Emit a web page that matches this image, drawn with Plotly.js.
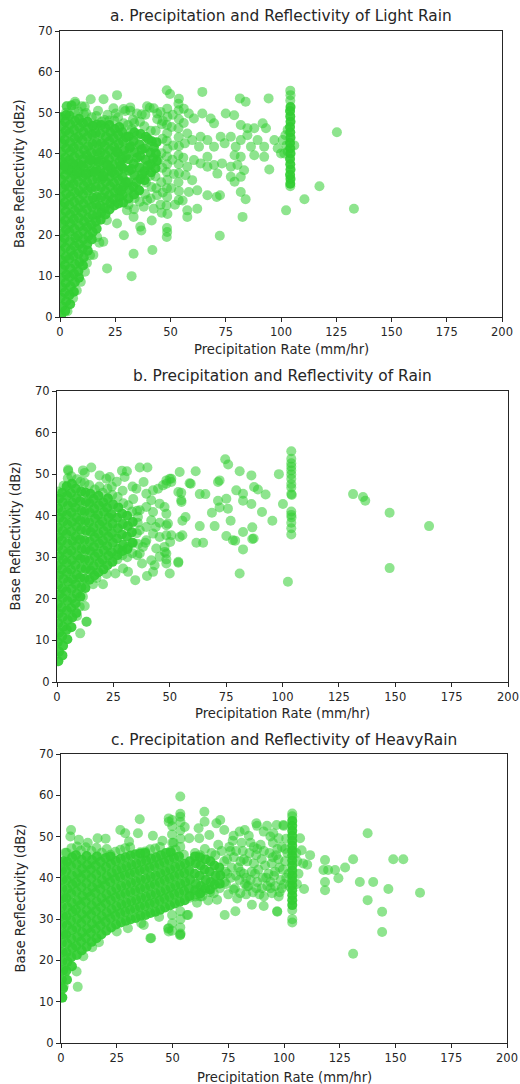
<!DOCTYPE html>
<html>
<head>
<meta charset="utf-8">
<script src="https://cdn.plot.ly/plotly-3.0.1.min.js"></script>
<style>html,body{margin:0;padding:0;background:#fff;}#chart{width:520px;height:1084px;}</style>
</head>
<body>
<div id="chart"></div>
<script>
// ---- Data: [precipitation rate (mm/hr), base reflectivity (dBz)] ----
// "Dense" lists hold points from the saturated (heavily overlapping) parts of each cloud,
// "Sparse" lists hold the scattered points around them.
const panelTitles = ["a. Precipitation and Reflectivity of Light Rain", "b. Precipitation and Reflectivity of Rain", "c. Precipitation and Reflectivity of HeavyRain"];
const xLabel = "Precipitation Rate (mm/hr)";
const yLabel = "Base Reflectivity (dBz)";
const xTicks = [0, 25, 50, 75, 100, 125, 150, 175, 200];
const yTicks = [0, 10, 20, 30, 40, 50, 60, 70];

const lightRainDense = [
[0.6,0.4],[1.1,2.6],[0.4,4.8],[0.9,7.2],[0.5,9.5],[1.2,11.6],[0.7,13.9],[0.3,16.1],[1.0,18.2],[0.6,20.5],[1.3,22.7],[0.5,24.8],[0.8,27.1],[0.4,29.3],[1.1,31.5],[0.7,33.6],[0.3,35.9],[1.0,38.0],[0.6,40.3],[1.2,42.4],[0.5,44.6],[0.9,46.8],[0.4,48.9],
[2.4,1.5],[2.8,3.8],[2.2,6.0],[2.6,8.3],[2.9,10.4],[2.3,12.7],[2.7,14.8],[2.5,17.0],[2.1,19.3],[2.8,21.4],[2.4,23.6],[2.6,25.9],[2.2,28.0],[2.9,30.2],[2.5,32.4],[2.3,34.7],[2.7,36.8],[2.4,39.0],[2.8,41.3],[2.2,43.4],[2.6,45.6],[2.4,47.8],[2.7,49.4],
[4.6,3.1],[4.3,5.4],[4.8,7.5],[4.4,9.8],[4.7,11.9],[4.2,14.2],[4.9,16.3],[4.5,18.5],[4.3,20.8],[4.8,22.9],[4.6,25.1],[4.2,27.4],[4.7,29.5],[4.4,31.8],[4.9,33.9],[4.5,36.1],[4.3,38.4],[4.8,40.5],[4.6,42.7],[4.2,45.0],[4.7,47.1],[4.4,49.3],
[6.3,6.2],[6.7,8.5],[6.4,10.6],[6.8,12.9],[6.2,15.0],[6.6,17.3],[6.9,19.4],[6.5,21.6],[6.3,23.9],[6.7,26.0],[6.4,28.2],[6.8,30.5],[6.2,32.6],[6.6,34.8],[6.9,37.1],[6.5,39.2],[6.3,41.4],[6.7,43.7],[6.4,45.8],[6.8,48.0],
[8.6,9.6],[8.3,11.2],[8.8,13.4],[8.4,15.5],[8.7,17.8],[8.2,19.9],[8.9,22.2],[8.5,24.3],[8.3,26.6],[8.8,28.7],[8.6,30.9],[8.2,33.2],[8.7,35.3],[8.4,37.5],[8.9,39.8],[8.5,41.9],[8.3,44.1],[8.8,46.4],[8.6,48.5],
[10.4,12.6],[10.8,14.6],[10.3,16.7],[10.7,19.0],[10.5,21.1],[10.9,23.4],[10.2,25.5],[10.6,27.7],[10.4,30.0],[10.8,32.1],[10.3,34.3],[10.7,36.6],[10.5,38.7],[10.9,40.9],[10.2,43.2],[10.6,45.3],[10.4,47.5],
[12.6,16.2],[12.3,17.8],[12.8,19.8],[12.4,22.0],[12.7,24.3],[12.2,26.4],[12.9,28.6],[12.5,30.9],[12.3,33.0],[12.8,35.2],[12.6,37.5],[12.2,39.6],[12.7,41.8],[12.4,44.1],[12.9,46.2],[12.5,47.8],
[14.4,19.0],[14.8,20.8],[14.3,22.6],[14.7,24.9],[14.5,27.0],[14.9,29.2],[14.2,31.5],[14.6,33.6],[14.4,35.8],[14.8,38.1],[14.3,40.2],[14.7,42.4],[14.5,44.7],[14.9,46.8],
[16.6,21.6],[16.3,23.4],[16.8,25.1],[16.4,27.4],[16.7,29.5],[16.2,31.8],[16.9,33.9],[16.5,36.1],[16.3,38.4],[16.8,40.5],[16.6,42.7],[16.2,45.0],[16.7,47.1],
[18.4,23.8],[18.8,25.6],[18.3,27.2],[18.7,29.4],[18.5,31.7],[18.9,33.8],[18.2,36.0],[18.6,38.3],[18.4,40.4],[18.8,42.6],[18.3,44.9],[18.7,47.0],
[20.6,25.1],[20.3,26.7],[20.8,28.7],[20.4,30.9],[20.7,33.1],[20.2,35.3],[20.9,37.5],[20.5,39.7],[20.3,41.9],[20.8,44.1],[20.6,46.3],
[22.4,26.3],[22.8,27.9],[22.3,29.8],[22.7,32.0],[22.5,34.2],[22.9,36.4],[22.2,38.6],[22.6,40.8],[22.4,43.0],[22.8,45.2],[22.3,47.0],
[24.6,27.3],[24.3,28.9],[24.8,30.6],[24.4,32.8],[24.7,35.0],[24.2,37.2],[24.9,39.4],[24.5,41.6],[24.3,43.8],[24.8,46.0],
[26.4,27.8],[26.8,29.4],[26.3,31.4],[26.7,33.6],[26.5,35.8],[26.9,38.0],[26.2,40.2],[26.6,42.4],[26.4,44.6],[26.8,46.5],
[28.6,28.0],[28.3,29.8],[28.8,32.0],[28.4,34.2],[28.7,36.4],[28.2,38.6],[28.9,40.8],[28.5,43.0],[28.3,45.2],
[31.0,29.0],[31.4,31.2],[30.8,33.0],[31.2,35.8],[30.9,38.6],[31.5,41.4],[31.1,44.2],
[33.5,30.0],[33.2,31.9],[33.7,34.7],[33.4,37.5],[33.9,40.3],[33.3,43.1],[33.6,45.2],
[35.8,31.0],[36.4,33.8],[35.9,36.6],[36.3,39.4],[36.0,42.2],[36.5,44.8],
[38.3,33.5],[38.3,35.7],[38.7,38.5],[38.4,41.3],[38.8,44.1],
[41.2,35.4],[41.2,37.4],[40.9,40.2],[41.5,43.0],
[43.2,36.4],[43.8,38.2],[43.4,40.0],[43.7,42.8],
[32.3,36.2],[32.0,41.8],[34.6,33.0],[34.9,39.0],[37.2,35.0],[37.0,41.0],[39.7,37.0],[39.9,43.5],[42.2,38.8],[42.5,41.5],[29.8,33.0],[29.9,39.5],[30.0,44.0],[27.6,37.0],[27.7,31.0],[25.6,40.5],[23.6,35.5],[21.6,37.0],[19.6,34.5],[17.5,38.0],[15.5,35.5],[13.6,38.5],[11.6,35.0],[9.6,37.0],[7.6,35.5],[5.6,37.5],[3.6,36.0],[1.7,37.0],
[104.2,32.6],[104.3,33.8],[104.1,34.8],[104.3,36.1],[104.2,37.4],[104.1,38.7],[104.3,40.0],[104.2,41.3],[104.1,42.6],[104.3,43.9],[104.2,45.2],[104.1,46.5],[104.3,47.8],[104.2,49.1],[104.1,50.4],[104.3,51.4]
];

const lightRainSparse = [
[3.1,51.6],[5.2,51.7],[7.0,52.2],[8.4,50.3],[11.2,51.5],[10.8,49.6],[6.6,50.1],[2.7,50.0],[14.4,48.9],[16.4,49.2],[20.2,48.2],[18.9,47.8],[22.3,48.1],[24.6,48.1],[25.2,49.8],[26.3,48.9],[28.8,47.4],[29.5,50.4],[31.8,50.5],[30.7,47.0],[33.0,48.3],[33.6,47.5],[31.0,27.5],[33.5,26.4],[33.8,29.1],
[36.1,28.2],[35.8,31.0],[36.2,47.8],[38.5,30.1],[38.9,32.9],[38.2,46.7],[38.6,49.5],[41.0,29.0],[41.4,31.8],[40.8,34.6],[41.1,45.6],[40.6,51.2],[43.6,31.5],[43.2,34.4],[43.3,45.6],[44.0,48.4],
[45.8,33.0],[46.3,36.5],[45.9,40.1],[46.4,43.6],[46.1,47.2],[45.5,27.5],[46.5,30.5],[44.6,38.5],[32.5,46.0],[35.0,44.5],
[32.4,10.0],[21.3,11.9],[11.3,11.1],[9.4,8.6],[15.1,15.2],[13.6,15.1],[19.6,18.4],[17.8,18.2],[33.3,15.5],[41.8,16.4],[28.9,20.0],[36.3,22.1],[36.8,21.2],[41.5,23.6],[25.8,22.9],[21.2,23.7],[30.3,26.1],[33.3,24.5],[37.9,27.0],[42.4,26.5],[39.4,28.6],[43.9,29.8],[7.6,6.5],[5.9,4.6],[3.4,1.4],[12.2,13.2],[16.8,19.6],
[3.0,51.6],[5.3,51.8],[6.8,52.7],[9.8,51.6],[13.9,53.3],[19.7,53.3],[25.8,54.3],[24.2,51.1],[28.8,50.9],[31.8,51.3],[39.4,51.6],[42.4,51.1],[45.5,50.2],[34.8,49.8],[21.5,49.5],[17.2,50.5],[37.0,49.6],[44.0,49.8],[11.8,49.9],
[48.3,19.6],[48.5,20.8],[48.4,21.8],[48.6,25.2],[48.2,27.3],[48.5,29.4],[48.4,31.5],[48.6,33.6],[48.3,35.5],[48.5,37.4],[48.4,39.3],[48.6,41.2],[48.3,43.1],[48.5,45.0],[48.4,47.0],[48.6,49.0],[48.5,51.0],[48.3,55.5],[49.8,54.6],
[53.7,28.6],[53.8,30.8],[53.6,33.0],[53.8,35.2],[53.7,37.4],[53.6,39.6],[53.8,41.8],[53.7,44.0],[53.6,46.2],[53.8,48.4],[53.7,50.6],[53.6,52.2],[53.8,53.4],
[104.2,32.0],[104.2,53.0],[104.3,54.3],[104.2,55.4],[102.0,44.5],[102.5,42.0],[103.0,40.5],[106.0,42.0],[101.5,40.0],[103.0,45.8],
[50.5,46.5],[51.2,42.0],[50.8,38.5],[51.5,35.0],[50.3,31.5],[56.0,47.5],[56.5,42.5],[55.8,39.0],[46.5,48.0],[51.0,49.5],[56.0,51.0],[52.0,27.5],[46.0,25.5],[55.5,28.5],
[58.3,49.8],[60.6,48.6],[64.4,49.8],[68.2,48.6],[69.7,47.4],[75.0,49.8],[78.8,49.4],[81.8,47.0],[87.9,46.2],[91.7,47.4],[93.2,46.2],[84.8,46.2],
[57.6,44.9],[59.8,43.3],[63.6,44.1],[66.7,43.3],[62.9,41.7],[69.7,41.7],[72.7,44.1],[74.5,42.5],[77.3,44.1],[79.5,41.7],[81.8,43.3],[84.8,44.5],[86.4,41.7],[89.4,43.3],[92.4,41.7],[97.0,43.3],[98.5,41.3],[100.8,43.3],[100.0,40.0],
[79.0,39.6],[81.8,39.2],[87.9,39.6],[92.4,39.2],[66.7,39.2],[60.6,38.4],[63.6,37.6],[69.7,37.2],[73.3,37.6],[77.3,36.8],[80.3,37.2],[83.3,35.9],[94.7,36.1],[66.7,36.8],[71.2,35.1],[77.3,34.3],[79.0,33.1],[81.8,34.3],[57.6,36.8],[56.8,34.7],[59.8,33.5],[62.1,31.0],[58.3,30.6],[66.7,29.8],[72.4,29.8],[81.8,30.6],[84.0,28.8],[82.6,24.5],[62.1,26.5],[57.6,24.5],[57.6,26.1],[72.3,19.9],[70.9,29.4],
[64.4,55.1],[81.4,53.5],[84.0,52.7],[94.4,53.5],
[133.0,26.5],[125.3,45.2],[117.4,32.0],[110.6,28.8],[102.3,26.1]
];

const rainDense = [
[0.6,5.0],[0.9,7.3],[0.4,9.6],[1.0,11.9],[0.6,14.2],[0.8,16.5],[0.4,18.8],[1.1,21.1],[0.5,23.4],[0.9,25.7],[0.4,28.0],[1.0,30.3],[0.6,32.6],[0.8,34.9],[0.4,37.2],[1.1,39.5],[0.5,41.8],[0.9,44.1],
[2.4,6.4],[2.7,8.7],[2.3,11.0],[2.8,13.3],[2.5,15.6],[2.2,17.9],[2.6,20.2],[2.4,22.5],[2.9,24.8],[2.3,27.1],[2.7,29.4],[2.5,31.7],[2.2,34.0],[2.6,36.3],[2.8,38.6],[2.4,40.9],[2.6,43.2],[2.3,45.5],
[4.6,10.3],[4.3,12.6],[4.8,14.9],[4.4,17.2],[4.7,19.5],[4.2,21.8],[4.9,24.1],[4.5,26.4],[4.3,28.7],[4.8,31.0],[4.6,33.3],[4.2,35.6],[4.7,37.9],[4.4,40.2],[4.9,42.5],[4.5,44.8],[4.3,47.1],
[6.4,13.2],[6.8,15.5],[6.3,17.8],[6.7,20.1],[6.5,22.4],[6.9,24.7],[6.2,27.0],[6.6,29.3],[6.4,31.6],[6.8,33.9],[6.3,36.2],[6.7,38.5],[6.5,40.8],[6.9,43.1],[6.2,45.4],[6.6,47.7],
[8.6,16.6],[8.3,18.9],[8.8,21.2],[8.4,23.5],[8.7,25.8],[8.2,28.1],[8.9,30.4],[8.5,32.7],[8.3,35.0],[8.8,37.3],[8.6,39.6],[8.2,41.9],[8.7,44.2],[8.4,46.5],
[10.4,20.5],[10.8,22.8],[10.3,25.1],[10.7,27.4],[10.5,29.7],[10.9,32.0],[10.2,34.3],[10.6,36.6],[10.4,38.9],[10.8,41.2],[10.3,43.5],[10.7,45.8],
[12.6,22.6],[12.3,24.9],[12.8,27.2],[12.4,29.5],[12.7,31.8],[12.2,34.1],[12.9,36.4],[12.5,38.7],[12.3,41.0],[12.8,43.3],[12.6,45.6],
[14.4,24.6],[14.8,26.9],[14.3,29.2],[14.7,31.5],[14.5,33.8],[14.9,36.1],[14.2,38.4],[14.6,40.7],[14.4,43.0],[14.8,45.3],
[16.6,25.6],[16.3,27.9],[16.8,30.2],[16.4,32.5],[16.7,34.8],[16.2,37.1],[16.9,39.4],[16.5,41.7],[16.3,44.0],
[18.4,26.4],[18.8,28.7],[18.3,31.0],[18.7,33.3],[18.5,35.6],[18.9,37.9],[18.2,40.2],[18.6,42.5],[18.4,44.8],
[20.6,27.1],[20.3,29.4],[20.8,31.7],[20.4,34.0],[20.7,36.3],[20.2,38.6],[20.9,40.9],[20.5,43.2],
[22.4,28.1],[22.8,30.4],[22.3,32.7],[22.7,35.0],[22.5,37.3],[22.9,39.6],[22.2,41.9],[22.6,44.2],
[24.6,28.9],[24.3,31.2],[24.8,33.5],[24.4,35.8],[24.7,38.1],[24.2,40.4],[24.9,42.7],
[26.8,30.5],[27.1,32.0],[26.6,34.5],[27.0,37.0],[26.7,39.5],[27.2,42.0],
[29.0,31.5],[29.3,33.0],[28.8,35.5],[29.2,38.0],[28.9,40.5],
[31.2,32.0],[31.0,35.0],[31.4,37.5],[31.1,40.0],
[33.4,33.5],[33.2,36.0],[33.6,38.5]
];

const rainSparse = [
[0.6,45.8],[2.9,47.2],[4.8,49.0],[5.0,50.8],[6.4,49.5],[8.9,48.8],[10.5,48.2],[12.2,47.9],[14.3,47.4],[16.8,46.3],[18.8,47.0],[20.3,45.5],[22.4,46.5],[24.5,45.0],[24.3,47.0],
[26.8,29.5],[26.9,44.5],[29.0,30.5],[29.4,43.0],[29.1,46.0],[31.2,30.0],[31.5,32.5],[31.6,42.5],[33.4,31.0],[33.7,33.5],[33.3,41.0],[33.8,44.0],
[35.6,30.5],[35.9,33.2],[35.4,35.8],[35.8,38.3],[35.5,41.2],
[36.7,51.6],[40.1,51.6],[38.4,48.1],[35.2,46.5],[39.6,45.3],[42.6,46.1],[44.8,46.5],[47.0,47.3],[48.5,48.5],[50.0,48.9],[50.7,48.1],[41.8,43.7],[45.5,42.9],[47.7,42.1],[39.6,42.1],[36.7,41.3],[42.6,40.9],[48.5,40.5],[41.8,38.9],[45.5,38.3],[48.5,37.7],[49.2,38.1],[39.6,37.3],[36.7,36.5],[42.6,35.7],[45.5,34.9],[48.5,35.3],[39.6,34.1],[38.1,32.5],[44.0,32.1],[47.7,32.5],[48.5,30.9],[45.5,30.1],[41.8,29.3],[48.5,29.5],[36.7,30.9],[39.2,33.5],[43.8,37.3],[35.9,39.7],
[34.7,24.5],[39.9,25.5],[42.6,26.5],[37.7,28.5],[43.3,28.1],[25.9,26.1],[29.3,27.3],[31.5,26.5],[20.4,23.5],[13.0,14.5],[10.3,11.7],[12.3,18.3],[10.1,18.1],[8.9,15.9],[13.2,14.5],[17.5,25.0],[16.0,23.5],[22.0,26.0],[11.5,20.5],
[4.9,51.1],[11.5,50.9],[15.2,51.6],[12.3,50.3],[18.9,49.7],[23.4,49.3],[28.8,50.8],[31.0,50.7],[30.0,49.3],[21.9,48.9],[26.5,48.2],[33.5,47.0],
[103.9,55.5],[103.9,53.7],[103.9,52.6],[103.9,51.8],[103.9,50.9],[103.9,49.9],[103.9,48.9],[103.9,47.6],[103.9,46.8],[103.9,45.2],[104.1,45.0],[103.9,41.0],[103.9,40.2],[104.0,39.6],[103.9,38.3],[103.9,37.0],[103.9,35.5],[102.4,24.1],
[165.0,37.5],[147.5,40.7],[147.5,27.4],[131.3,45.2],[135.7,44.5],[136.7,43.6],[98.4,50.0],[100.2,42.8],[95.5,38.8],[90.9,40.9],[92.5,45.1],[89.1,46.3],[87.4,46.9],[86.2,49.7],[81.0,50.7],[79.5,46.1],[82.5,45.3],[82.5,43.6],[86.2,42.8],[86.6,37.2],[87.2,34.5],[86.6,34.4],[82.5,36.1],[82.5,31.9],[81.0,26.1],[78.0,34.1],[79.0,34.0],[75.1,35.1],[77.0,38.8],[75.8,41.7],[75.1,44.1],[74.6,53.6],[75.9,52.3],[72.1,48.5],[71.4,48.1],[71.4,43.6],[72.1,42.0],[68.7,40.7],[69.9,37.5],[63.3,37.5],[61.8,33.5],[64.8,33.5],[63.3,45.2],[65.8,45.2],[61.5,50.7],[59.3,47.7],[55.1,45.5],[55.1,43.7],[55.6,38.8],[57.0,39.7],[55.6,35.3],[54.4,34.9],[53.8,28.7],[54.4,50.5],[50.0,26.1],[48.5,28.5],[50.7,48.9],[48.5,47.7],[50.7,35.3],[50.2,33.7],[53.8,28.9],[47.8,31.3],[53.8,45.7],[55.2,43.3],[58.8,47.8]
];

const heavyRainDense = [
[0.6,11.0],[0.9,13.2],[0.4,15.4],[1.0,17.6],[0.6,19.8],[0.8,22.0],[0.4,24.2],[1.1,26.4],[0.5,28.6],[0.9,30.8],[0.4,33.0],[1.0,35.2],[0.6,37.4],[0.8,39.6],[0.4,41.8],[1.0,44.0],
[2.7,15.3],[2.4,17.5],[2.9,19.7],[2.5,21.9],[2.8,24.1],[2.3,26.3],[2.7,28.5],[2.5,30.7],[2.9,32.9],[2.4,35.1],[2.8,37.3],[2.6,39.5],[2.3,41.7],[2.7,43.9],
[4.9,18.6],[4.6,20.8],[5.1,23.0],[4.7,25.2],[5.0,27.4],[4.5,29.6],[5.2,31.8],[4.8,34.0],[4.6,36.2],[5.1,38.4],[4.9,40.6],[4.5,42.8],[5.0,45.0],
[7.1,21.3],[6.8,23.5],[7.3,25.7],[6.9,27.9],[7.2,30.1],[6.7,32.3],[7.4,34.5],[7.0,36.7],[6.8,38.9],[7.3,41.1],[7.1,43.3],[6.7,45.5],
[9.3,22.4],[9.0,24.6],[9.5,26.8],[9.1,29.0],[9.4,31.2],[8.9,33.4],[9.6,35.6],[9.2,37.8],[9.0,40.0],[9.5,42.2],[9.3,44.4],
[11.5,23.3],[11.2,25.5],[11.7,27.7],[11.3,29.9],[11.6,32.1],[11.1,34.3],[11.8,36.5],[11.4,38.7],[11.2,40.9],[11.7,43.1],[11.5,45.3],
[13.7,24.5],[13.4,26.7],[13.9,28.9],[13.5,31.1],[13.8,33.3],[13.3,35.5],[14.0,37.7],[13.6,39.9],[13.4,42.1],[13.9,44.3],
[15.9,25.4],[15.6,27.6],[16.1,29.8],[15.7,32.0],[16.0,34.2],[15.5,36.4],[16.2,38.6],[15.8,40.8],[15.6,43.0],[16.1,45.2],
[18.1,26.3],[17.8,28.5],[18.3,30.7],[17.9,32.9],[18.2,35.1],[17.7,37.3],[18.4,39.5],[18.0,41.7],[17.8,43.9],
[20.3,27.2],[20.0,29.4],[20.5,31.6],[20.1,33.8],[20.4,36.0],[19.9,38.2],[20.6,40.4],[20.2,42.6],[20.0,44.8],
[22.5,28.0],[22.2,30.2],[22.7,32.4],[22.3,34.6],[22.6,36.8],[22.1,39.0],[22.8,41.2],[22.4,43.4],[22.2,45.2],
[24.7,28.7],[24.4,30.9],[24.9,33.1],[24.5,35.3],[24.8,37.5],[24.3,39.7],[25.0,41.9],[24.6,44.1],
[26.9,29.2],[26.6,31.4],[27.1,33.6],[26.7,35.8],[27.0,38.0],[26.5,40.2],[27.2,42.4],[26.8,44.6],
[29.1,29.6],[28.8,31.8],[29.3,34.0],[28.9,36.2],[29.2,38.4],[28.7,40.6],[29.4,42.8],[29.0,45.0],
[31.3,30.0],[31.0,32.2],[31.5,34.4],[31.1,36.6],[31.4,38.8],[30.9,41.0],[31.6,43.2],[31.2,45.4],
[33.5,30.3],[33.2,32.5],[33.7,34.7],[33.3,36.9],[33.6,39.1],[33.1,41.3],[33.8,43.5],[33.4,45.7],
[35.7,30.8],[35.4,33.0],[35.9,35.2],[35.5,37.4],[35.8,39.6],[35.3,41.8],[36.0,44.0],[35.6,45.9],
[37.9,31.0],[37.6,33.2],[38.1,35.4],[37.7,37.6],[38.0,39.8],[37.5,42.0],[38.2,44.2],[37.8,46.0],
[40.1,31.5],[39.8,33.7],[40.3,35.9],[39.9,38.1],[40.2,40.3],[39.7,42.5],[40.4,44.7],
[42.3,31.8],[42.0,34.0],[42.5,36.2],[42.1,38.4],[42.4,40.6],[41.9,42.8],[42.6,45.0],
[44.5,32.3],[44.2,34.5],[44.7,36.7],[44.3,38.9],[44.6,41.1],[44.1,43.3],[44.8,45.5],
[46.7,32.8],[46.4,35.0],[46.9,37.2],[46.5,39.4],[46.8,41.6],[46.3,43.8],[47.0,46.0],
[48.9,33.3],[48.6,35.5],[49.1,37.7],[48.7,39.9],[49.0,42.1],[48.5,44.3],[49.2,46.2],
[51.1,33.8],[50.8,36.0],[51.3,38.2],[50.9,40.4],[51.2,42.6],[50.7,44.8],
[53.3,34.2],[53.0,36.4],[53.5,38.6],[53.1,40.8],[53.4,43.0],[52.9,45.2],
[55.5,34.6],[55.2,36.8],[55.7,39.0],[55.3,41.2],[55.6,43.4],
[57.7,35.6],[57.4,37.4],[57.9,39.6],[57.5,41.8],[57.8,44.0],
[60.2,37.0],[60.5,38.5],[60.0,41.0],[60.4,43.5],[62.7,38.0],[62.2,40.5],[62.6,43.0],[64.9,39.5],[64.4,42.0],
[62.4,36.2],[62.3,45.0],[64.6,37.4],[64.8,44.5],[66.8,37.2],[67.1,39.0],[66.6,41.5],[67.0,44.0],[69.0,38.4],[69.3,40.5],[68.8,43.0],[71.2,38.6],[71.5,40.6],[71.0,42.5],[60.1,45.2],
[103.7,33.4],[103.7,34.6],[103.7,35.8],[103.7,37.0],[103.7,38.2],[103.7,39.4],[103.7,40.6],[103.7,41.8],[103.7,43.0],[103.7,44.2],[103.7,45.4],[103.7,46.6],[103.7,47.8],[103.7,49.0],[103.7,50.2],[103.7,51.4],[103.7,52.6],[103.7,53.8]
];

const heavyRainSparse = [
[2.5,46.1],[1.9,46.1],[4.7,47.2],[7.2,47.6],[8.9,46.6],[11.1,47.4],[13.7,46.5],[15.9,47.3],[18.3,46.1],[20.5,47.0],[22.2,45.6],[24.4,46.3],[26.6,46.8],[28.8,47.2],[31.0,47.4],[35.6,46.2],[37.8,46.4],[40.0,46.9],[42.2,47.1],[44.4,47.5],[49.2,46.5],[51.4,46.8],[55.1,45.6],[57.7,35.2],
[60.1,46.0],[62.4,35.5],[62.3,45.5],[64.6,37.0],[64.5,47.0],[66.8,36.5],[69.2,45.5],[71.2,37.5],[73.4,39.0],[73.7,41.5],[73.2,44.0],[60.2,36.0],
[75.5,47.5],[77.5,45.0],[79.5,42.5],[81.5,46.5],[83.5,44.0],[85.5,41.5],[87.5,45.5],[89.5,48.0],[91.5,43.0],[93.5,46.0],[95.5,40.5],[97.5,44.5],[99.5,42.0],[101.5,46.0],[76.0,40.0],[78.0,37.5],[80.0,39.5],[82.0,41.0],[84.0,38.0],[86.0,36.5],[88.0,39.0],[90.0,37.5],[92.0,40.0],[94.0,37.5],[96.0,38.0],[98.0,36.5],[100.0,38.5],[102.0,41.0],[77.0,49.0],[85.0,48.5],[95.0,48.5],[101.0,49.5],[74.5,44.5],[88.5,42.0],[80.5,44.0],[96.5,45.5],[99.0,47.5],[91.0,35.5],[83.0,36.0],
[74.0,38.5],[76.5,42.5],[78.5,46.5],[80.5,41.5],[82.5,38.5],[84.5,46.0],[86.5,43.5],[88.0,47.0],[90.0,44.5],[92.5,38.0],[94.5,43.5],[96.0,41.5],[98.5,39.5],[100.5,44.0],[102.5,38.0],[75.0,36.0],[79.0,35.0],[81.0,48.5],[83.0,40.0],[85.0,39.5],[87.0,41.0],[89.0,36.0],[91.0,46.5],[93.0,41.0],[95.0,45.0],[97.0,47.0],[99.0,37.5],[101.0,40.0],[76.0,46.5],[78.5,40.5],[82.0,44.5],[86.5,47.5],[90.5,40.0],[94.0,39.0],[98.0,42.5],[100.5,47.0],[72.0,46.5],[74.5,41.0],[70.5,48.0],[67.5,46.0],
[70.0,34.7],[68.5,36.3],[63.2,35.5],[60.2,35.5],[56.5,31.0],[53.5,31.9],[53.5,26.2],[48.3,27.8],[48.3,27.0],[40.1,25.4],[37.1,28.6],[94.6,36.3],[97.6,35.5],[96.9,31.9],[90.9,33.2],[85.6,33.5],[78.2,31.9],[73.4,31.0],[87.6,37.5],[83.4,37.9],[80.4,36.3],[77.4,37.1],
[53.5,59.7],[53.5,54.8],[48.3,54.4],[48.3,53.6],[35.3,54.2],[34.5,50.8],[26.6,51.6],[28.8,50.8],[16.4,49.6],[4.5,51.6],[4.2,50.0],[55.5,52.3],[57.5,49.6],[61.7,52.0],[62.0,49.6],[64.3,56.0],[64.4,53.6],[66.5,50.4],[71.4,54.0],[73.2,51.6],[69.7,53.2],[77.4,50.2],[80.1,51.2],[82.4,51.6],[84.2,50.2],[87.6,53.2],[87.9,52.6],[92.4,52.6],[90.9,51.2],[93.9,50.0],[97.6,49.6],[99.9,52.6],[41.2,50.2],[12.0,48.5],[8.0,49.2],[20.0,49.5],[30.5,48.8],[45.5,49.0],[50.5,48.5],
[49.8,27.2],[49.9,29.0],[49.8,31.0],[49.9,48.5],[49.8,50.5],[49.9,52.5],[49.8,54.0],
[53.6,26.5],[53.5,28.0],[53.6,30.0],[53.5,47.5],[53.6,49.5],[53.5,51.5],[53.6,53.5],[53.5,55.5],
[103.7,29.2],[103.7,30.0],[103.7,32.2],[103.7,54.9],[103.7,55.6],
[96.7,52.8],[99.7,52.8],[95.2,50.8],[107.2,49.6],[107.9,46.7],[111.7,45.5],[108.6,43.5],[110.4,43.2],[118.4,44.3],[117.7,41.9],[119.8,41.9],[122.9,41.9],[127.4,42.5],[124.4,39.9],[131.0,44.5],[118.4,39.0],[118.4,37.0],[134.0,39.0],[140.0,39.0],[137.5,50.8],[137.5,34.6],[146.8,37.3],[149.0,44.5],[153.5,44.5],[144.0,31.8],[144.0,26.9],[161.0,36.4],[109.0,37.3],[97.0,31.8],[131.0,21.6],[106.5,41.0],[105.8,38.5],[105.5,46.0],[106.0,44.0],
[7.0,17.3],[7.5,13.6],[40.4,25.4],[53.4,26.1],[48.0,27.7],[0.4,11.0],[1.2,13.7],[10.0,21.0],[14.0,23.2],[17.0,24.4],[25.0,27.0],[30.0,27.8],[36.0,29.0],[44.0,30.5],[57.0,31.0],[61.0,34.0],[66.0,34.5]
];

// ---- Layout geometry (pixels in the 520x1084 figure) ----
const W = 520, H = 1084;
const boxes = [
  {l: 60, r: 502, t: 31, b: 317, titleY: 16, ylabX: 20, xlabY: 350},
  {l: 57, r: 508, t: 391, b: 682, titleY: 376, ylabX: 15, xlabY: 713},
  {l: 61, r: 507, t: 754, b: 1043, titleY: 740, ylabX: 20, xlabY: 1077}
];
const denseSets = [lightRainDense, rainDense, heavyRainDense];
const sparseSets = [lightRainSparse, rainSparse, heavyRainSparse];
const green = '#32CD32';
const ink = '#262626';

const traces = [];
[0, 1, 2].forEach(i => {
  const xa = i === 0 ? 'x' : 'x' + (i + 1);
  const ya = i === 0 ? 'y' : 'y' + (i + 1);
  // saturated core: many overlapping translucent markers render as near-solid colour
  traces.push({
    type: 'scatter', mode: 'markers',
    x: denseSets[i].map(p => p[0]), y: denseSets[i].map(p => p[1]),
    xaxis: xa, yaxis: ya,
    marker: {size: 10, color: green, opacity: 0.92, line: {width: 0}},
    hoverinfo: 'skip', showlegend: false
  });
  traces.push({
    type: 'scatter', mode: 'markers',
    x: sparseSets[i].map(p => p[0]), y: sparseSets[i].map(p => p[1]),
    xaxis: xa, yaxis: ya,
    marker: {size: 10, color: green, opacity: 0.55, line: {width: 0}},
    hoverinfo: 'skip', showlegend: false
  });
});

const axisStyle = {
  showline: true, linecolor: ink, linewidth: 1, mirror: true,
  ticks: 'outside', ticklen: 4, tickwidth: 1, tickcolor: ink,
  showgrid: false, zeroline: false, fixedrange: true,
  tickfont: {family: 'DejaVu Sans', size: 11.5, color: ink}
};

const layout = {
  width: W, height: H,
  margin: {l: 0, r: 0, t: 0, b: 0},
  paper_bgcolor: '#ffffff', plot_bgcolor: '#ffffff',
  font: {family: 'DejaVu Sans', size: 11, color: ink},
  showlegend: false,
  annotations: []
};

boxes.forEach((bx, i) => {
  const sfx = i === 0 ? '' : String(i + 1);
  layout['xaxis' + sfx] = Object.assign({}, axisStyle, {
    domain: [bx.l / W, bx.r / W], anchor: 'y' + sfx,
    range: [0, 200], tickmode: 'array', tickvals: xTicks, ticktext: xTicks.map(String)
  });
  layout['yaxis' + sfx] = Object.assign({}, axisStyle, {
    domain: [1 - bx.b / H, 1 - bx.t / H], anchor: 'x' + sfx,
    range: [0, 70], tickmode: 'array', tickvals: yTicks, ticktext: yTicks.map(String)
  });
  const cx = (bx.l + bx.r) / 2 / W;
  layout.annotations.push(
    {text: panelTitles[i], xref: 'paper', yref: 'paper', x: cx, y: 1 - bx.titleY / H,
     xanchor: 'center', yanchor: 'middle', showarrow: false,
     font: {family: 'DejaVu Sans', size: 15.4, color: ink}},
    {text: xLabel, xref: 'paper', yref: 'paper', x: cx, y: 1 - bx.xlabY / H,
     xanchor: 'center', yanchor: 'middle', showarrow: false,
     font: {family: 'DejaVu Sans', size: 13.2, color: ink}},
    {text: yLabel, xref: 'paper', yref: 'paper', x: bx.ylabX / W, y: 1 - (bx.t + bx.b) / 2 / H,
     xanchor: 'center', yanchor: 'middle', textangle: -90, showarrow: false,
     font: {family: 'DejaVu Sans', size: 13.2, color: ink}}
  );
});

Plotly.newPlot('chart', traces, layout, {displayModeBar: false, staticPlot: true});
</script>
</body>
</html>
